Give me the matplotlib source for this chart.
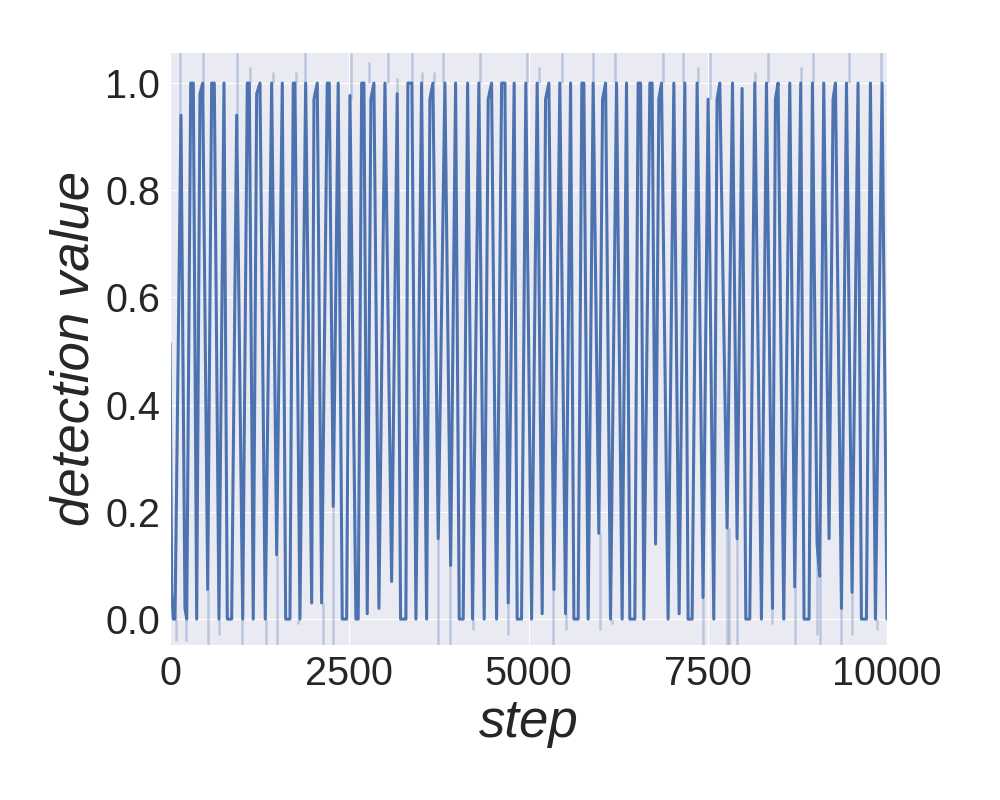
import numpy as np
import matplotlib
matplotlib.use("Agg")
from matplotlib import pyplot as plt
import seaborn as sns

# vertices of the mean curve
steps = [0, 24, 46, 70, 153, 209, 233, 289, 325, 372, 418, 456, 526, 581, 618, 683, 753, 799, 860,
         930, 1014, 1078, 1106, 1161, 1209, 1255, 1329, 1418, 1488, 1566, 1613, 1673, 1719, 1743,
         1812, 1892, 1976, 2008, 2054, 2115, 2193, 2221, 2277, 2346, 2402, 2464, 2510, 2593, 2625,
         2673, 2705, 2751, 2802, 2844, 2914, 2998, 3091, 3169, 3216, 3290,
         3318, 3374, 3430, 3509, 3579, 3625, 3667, 3741, 3834, 3914, 3983, 4034, 4089, 4151, 4220,
         4308, 4382, 4438, 4485, 4555, 4625, 4671, 4717, 4800, 4842, 4903, 4963, 5043, 5121, 5191,
         5238, 5284, 5354, 5437, 5517, 5587, 5633, 5693, 5744, 5772, 5832, 5902, 5981, 6033, 6075,
         6144, 6228, 6306, 6367, 6413, 6483, 6529, 6563,
         6609, 6693, 6724, 6772, 6818, 6855, 6947, 7027, 7101, 7180, 7226, 7282, 7352, 7435, 7505,
         7584, 7630, 7668, 7770, 7845, 7909, 7979, 8031, 8086, 8156, 8249, 8319, 8403, 8444, 8481,
         8560, 8644, 8714, 8797, 8843, 8913, 8960, 9025, 9062, 9118, 9192, 9248, 9281, 9365, 9435,
         9513, 9596, 9643, 9713, 9769, 9839, 9931, 10000]
values = [0.515, 0.05, 0.0, 0.0, 0.94, 0.02, 0.0, 1.0, 1.0, 0.0, 0.98, 1.0, 0.055, 1.0, 1.0, 0.0, 1.0, 0.0, 0.0,
          0.94, 0.0, 1.0, 1.0, 0.0, 0.98, 1.0, 0.0, 1.0, 0.12, 1.0, 0.0, 0.0, 1.0, 1.0,
          0.0, 1.0, 0.03, 0.97, 1.0, 0.03, 1.0, 1.0, 0.21, 1.0, 0.0, 0.0, 0.977, 0.0, 0.0,
          1.0, 1.0, 0.01, 0.97, 1.0, 0.02, 1.0, 0.07, 0.98, 0.0, 0.0,
          1.0, 1.0, 0.0, 1.0, 0.0, 0.97, 1.0, 0.15, 1.0, 0.1, 1.0, 0.0, 0.0, 1.0, 0.0,
          1.0, 0.0, 0.97, 1.0, 0.0, 1.0, 1.0, 0.03, 1.0, 0.0, 0.0, 1.0, 0.0, 1.0, 0.01,
          0.97, 1.0, 0.055, 1.0, 0.01, 1.0, 0.0, 0.0, 1.0, 1.0, 0.0, 1.0, 0.16, 0.97, 1.0,
          0.0, 1.0, 0.0, 1.0, 0.0, 0.0, 1.0, 1.0,
          0.0, 1.0, 1.0, 0.14, 0.97, 1.0, 0.0, 1.0, 0.01, 1.0, 0.0, 0.0, 1.0, 0.04, 0.97,
          0.0, 0.97, 1.0, 0.17, 1.0, 0.15, 0.99, 0.0, 0.0, 1.0, 0.0, 1.0, 0.02, 0.97, 1.0,
          0.0, 1.0, 0.06, 1.0, 0.0, 0.0, 1.0, 0.14, 0.08, 1.0, 0.15, 0.97, 1.0, 0.02, 1.0,
          0.05, 1.0, 0.0, 0.0, 1.0, 0.0, 1.0, 0.0]

# faint confidence-band slivers (step, low, high)
band_steps = [139, 465, 930, 1115, 1441, 1752, 1882, 2524, 2775, 3044, 3169,
              84, 223, 526, 688, 1000, 1338, 1488, 1789, 2137, 2277,
              3370, 3509, 3685, 3802, 4322, 4973, 5149, 5461, 5902, 6204,
              3741, 3904, 4229, 4717, 5344, 5517, 5995, 6158,
              6869, 7156, 7365, 7529, 8156, 8342, 8807, 8969, 9471, 9923,
              7435, 7770, 7790, 7909, 8403, 8714, 9025, 9062, 9365, 9513, 9861]
band_low = [0.9, 0.98, 0.9, 1.0, 1.0, 1.0, 1.0, 0.97, 1.0, 1.0, 0.98,
            -0.04, -0.04, -0.06, -0.03, -0.06, -0.06, -0.06, -0.01, -0.06, -0.06,
            1.0, 1.0, 1.0, 1.0, 1.0, 1.0, 1.0, 1.0, 1.0, 1.0,
            -0.06, -0.06, -0.02, -0.03, -0.06, -0.02, -0.02, -0.01,
            1.0, 1.0, 1.0, 0.97, 1.0, 1.0, 1.0, 1.0, 1.0, 1.0,
            -0.06, -0.06, -0.06, -0.06, -0.01, -0.06, -0.03, -0.06, -0.06, -0.03, -0.02]
band_high = [1.06, 1.06, 1.06, 1.03, 1.02, 1.02, 1.06, 1.06, 1.04, 1.06, 1.01,
             0.0, 0.0, 0.055, 0.0, 0.0, 0.0, 0.12, 0.0, 0.03, 0.21,
             1.06, 1.02, 1.02, 1.06, 1.06, 1.06, 1.03, 1.06, 1.06, 1.06,
             0.15, 0.1, 0.0, 0.03, 0.055, 0.01, 0.16, 0.0,
             1.06, 1.06, 1.03, 1.06, 1.02, 1.06, 1.03, 1.06, 1.06, 1.06,
             0.04, 0.17, 0.17, 0.15, 0.02, 0.06, 0.14, 0.08, 0.02, 0.05, 0.0]

sns.set_style("darkgrid")
plt.rcParams['font.family'] = ['Liberation Sans', 'DejaVu Sans']

fig = plt.figure(figsize=(10, 8), dpi=100)
ax = fig.add_axes([0.170, 0.194, 0.717, 0.741])

color = sns.color_palette("deep")[0]
ax.vlines(band_steps, band_low, band_high, color=color, alpha=0.3, lw=1.8)
ax.plot(steps, values, color=color, lw=2.2, solid_joinstyle="round")

ax.set_xlim(0, 10000)
ax.set_ylim(-0.048, 1.058)
ax.set_xticks([0, 2500, 5000, 7500, 10000])
ax.set_yticks([0.0, 0.2, 0.4, 0.6, 0.8, 1.0])
ax.set_yticklabels(["0.0", "0.2", "0.4", "0.6", "0.8", "1.0"])
ax.tick_params(labelsize=28.5, colors="#262626")
ax.set_xlabel("step", fontsize=38, style="italic", color="#262626")
ax.set_ylabel("detection value", fontsize=38, style="italic", color="#262626")

fig.savefig("out.png", dpi=100)
